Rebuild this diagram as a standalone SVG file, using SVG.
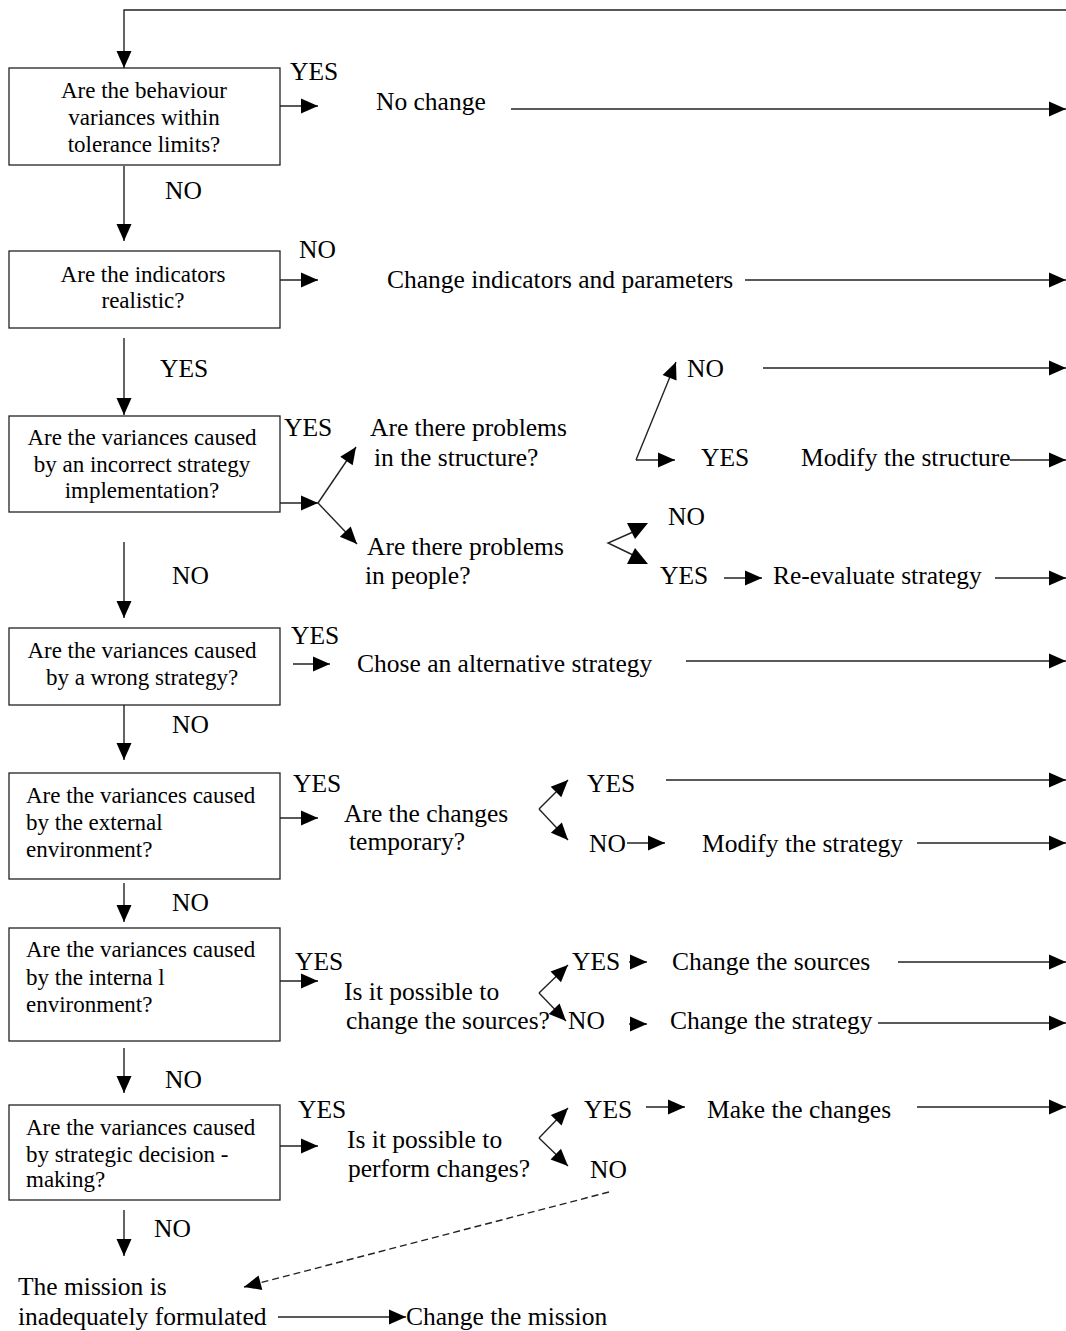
<svg xmlns="http://www.w3.org/2000/svg" width="1066" height="1331" viewBox="0 0 1066 1331">
<style>
  text { font-family: "Liberation Serif", "Times New Roman", serif; fill: #000; }
  .bx { font-size: 23px; }
  .lb { font-size: 25.5px; }
  .c { text-anchor: middle; }
  .box { fill: #fff; stroke: #222; stroke-width: 1.3; }
  .ln { fill: none; stroke: #222; stroke-width: 1.4; }
  .ar { fill: none; stroke: #222; stroke-width: 1.4; marker-end: url(#ah); }
  .da { fill: none; stroke: #222; stroke-width: 1.4; stroke-dasharray: 7 4; marker-end: url(#ah); }
</style>
<defs>
  <marker id="ah" markerUnits="userSpaceOnUse" markerWidth="17" markerHeight="15" refX="17" refY="7.5" orient="auto" overflow="visible">
    <path d="M0,0 L17,7.5 L0,15 z" fill="#000"/>
  </marker>
</defs>
<rect width="1066" height="1331" fill="#fff"/>

<g id="connectors">
  <polyline class="ar" points="1066,10 124,10 124,68"/>
  <line class="ar" x1="280" y1="106" x2="318" y2="106"/>
  <line class="ar" x1="511" y1="109" x2="1066" y2="109"/>
  <line class="ar" x1="124" y1="166" x2="124" y2="241"/>
  <line class="ar" x1="280" y1="280" x2="318" y2="280"/>
  <line class="ar" x1="745" y1="280" x2="1066" y2="280"/>
  <line class="ar" x1="124" y1="338" x2="124" y2="415"/>
  <line class="ar" x1="280" y1="503" x2="318" y2="503"/>
  <line class="ar" x1="318" y1="503" x2="356" y2="447"/>
  <line class="ar" x1="318" y1="503" x2="357" y2="544"/>
  <!-- structure branch -->
  <line class="ar" x1="636" y1="460" x2="676" y2="362"/>
  <line class="ar" x1="636" y1="460" x2="675" y2="460"/>
  <line class="ar" x1="763" y1="368" x2="1066" y2="368"/>
  <line class="ar" x1="1010" y1="460" x2="1066" y2="460"/>
  <!-- people branch -->
  <polyline class="ln" points="633,532 608,543 633,555"/>
  <polygon points="627,523 648,523 635,539" fill="#000"/>
  <polygon points="627,564 648,564 635,548" fill="#000"/>
  <line class="ar" x1="724" y1="578" x2="762" y2="578"/>
  <line class="ar" x1="995" y1="578" x2="1066" y2="578"/>
  <line class="ar" x1="124" y1="542" x2="124" y2="618"/>
  <!-- wrong strategy -->
  <line class="ar" x1="293" y1="664" x2="330" y2="664"/>
  <line class="ar" x1="686" y1="661" x2="1066" y2="661"/>
  <line class="ar" x1="124" y1="705" x2="124" y2="760"/>
  <!-- external -->
  <line class="ar" x1="280" y1="818" x2="318" y2="818"/>
  <line class="ar" x1="539" y1="809" x2="568" y2="780"/>
  <line class="ar" x1="539" y1="809" x2="568" y2="840"/>
  <line class="ar" x1="666" y1="780" x2="1066" y2="780"/>
  <line class="ar" x1="627" y1="843" x2="665" y2="843"/>
  <line class="ar" x1="917" y1="843" x2="1066" y2="843"/>
  <line class="ar" x1="124" y1="883" x2="124" y2="922"/>
  <!-- internal -->
  <line class="ar" x1="280" y1="981" x2="318" y2="981"/>
  <line class="ar" x1="539" y1="993" x2="568" y2="965"/>
  <line class="ar" x1="539" y1="993" x2="566" y2="1021"/>
  <line class="ar" x1="629" y1="962" x2="647" y2="962"/>
  <line class="ar" x1="898" y1="962" x2="1066" y2="962"/>
  <line class="ar" x1="629" y1="1024" x2="647" y2="1024"/>
  <line class="ar" x1="878" y1="1023" x2="1066" y2="1023"/>
  <line class="ar" x1="124" y1="1048" x2="124" y2="1093"/>
  <!-- decision-making -->
  <line class="ar" x1="280" y1="1146" x2="318" y2="1146"/>
  <line class="ar" x1="539" y1="1138" x2="568" y2="1108"/>
  <line class="ar" x1="539" y1="1138" x2="568" y2="1166"/>
  <line class="ar" x1="646" y1="1107" x2="685" y2="1107"/>
  <line class="ar" x1="917" y1="1107" x2="1066" y2="1107"/>
  <line class="da" x1="609" y1="1192" x2="244" y2="1287"/>
  <line class="ar" x1="124" y1="1202" x2="124" y2="1256"/>
  <line class="ar" x1="278" y1="1317" x2="406" y2="1317"/>
</g>

<g id="labels" class="lb">
  <text x="290" y="80">YES</text>
  <text x="165" y="199">NO</text>
  <text x="299" y="258">NO</text>
  <text x="160" y="377">YES</text>
  <text x="284" y="436">YES</text>
  <text x="687" y="377">NO</text>
  <text x="701" y="466">YES</text>
  <text x="668" y="525">NO</text>
  <text x="660" y="584">YES</text>
  <text x="172" y="584">NO</text>
  <text x="291" y="644">YES</text>
  <text x="172" y="733">NO</text>
  <text x="293" y="792">YES</text>
  <text x="587" y="792">YES</text>
  <text x="589" y="852">NO</text>
  <text x="172" y="911">NO</text>
  <text x="295" y="970">YES</text>
  <text x="572" y="970">YES</text>
  <text x="568" y="1029">NO</text>
  <text x="165" y="1088">NO</text>
  <text x="298" y="1118">YES</text>
  <text x="584" y="1118">YES</text>
  <text x="590" y="1178">NO</text>
  <text x="154" y="1237">NO</text>
</g>

<g id="q1"><rect class="box" x="9" y="68" width="271" height="97"/>
  <text class="bx c" x="144" y="98">Are the behaviour</text>
  <text class="bx c" x="144" y="125">variances within</text>
  <text class="bx c" x="144" y="152">tolerance limits?</text></g>
<g id="q2"><rect class="box" x="9" y="251" width="271" height="77"/>
  <text class="bx c" x="143" y="282">Are the indicators</text>
  <text class="bx c" x="143" y="308">realistic?</text></g>
<g id="q3"><rect class="box" x="9" y="416" width="271" height="96"/>
  <text class="bx c" x="142" y="445">Are the variances caused</text>
  <text class="bx c" x="142" y="472">by an incorrect strategy</text>
  <text class="bx c" x="142" y="498">implementation?</text></g>
<g id="q4"><rect class="box" x="9" y="628" width="271" height="77"/>
  <text class="bx c" x="142" y="658">Are the variances caused</text>
  <text class="bx c" x="142" y="685">by a wrong strategy?</text></g>
<g id="q5"><rect class="box" x="9" y="773" width="271" height="106"/>
  <text class="bx" x="26" y="803">Are the variances caused</text>
  <text class="bx" x="26" y="830">by the external</text>
  <text class="bx" x="26" y="857">environment?</text></g>
<g id="q6"><rect class="box" x="9" y="928" width="271" height="113"/>
  <text class="bx" x="26" y="957">Are the variances caused</text>
  <text class="bx" x="26" y="985">by the interna l</text>
  <text class="bx" x="26" y="1012">environment?</text></g>
<g id="q7">
  <text class="bx" x="26" y="1135">Are the variances caused</text>
  <text class="bx" x="26" y="1162">by strategic decision -</text>
  <text class="bx" x="26" y="1187">making?</text>
  <rect x="10" y="1200" width="270" height="10" fill="#fff"/>
  <rect class="box" x="9" y="1105" width="271" height="95" style="fill:none"/></g>

<g id="no-change"><text class="lb" x="376" y="110">No change</text></g>
<g id="change-indicators"><text class="lb" x="387" y="288">Change indicators and parameters</text></g>
<g id="q-structure"><text class="lb" x="370" y="436">Are there problems</text>
  <text class="lb" x="374" y="466">in the structure?</text></g>
<g id="modify-structure"><text class="lb" x="801" y="466">Modify the structure</text></g>
<g id="q-people"><text class="lb" x="367" y="555">Are there problems</text>
  <text class="lb" x="365" y="584">in people?</text></g>
<g id="reevaluate"><text class="lb" x="773" y="584">Re-evaluate strategy</text></g>
<g id="alt-strategy"><text class="lb" x="357" y="672">Chose an alternative strategy</text></g>
<g id="q-temporary"><text class="lb" x="344" y="822">Are the changes</text>
  <text class="lb" x="349" y="850">temporary?</text></g>
<g id="modify-strategy"><text class="lb" x="702" y="852">Modify the strategy</text></g>
<g id="q-sources"><text class="lb" x="344" y="1000">Is it possible to</text>
  <text class="lb" x="346" y="1029">change the sources?</text></g>
<g id="change-sources"><text class="lb" x="672" y="970">Change the sources</text></g>
<g id="change-strategy"><text class="lb" x="670" y="1029">Change the strategy</text></g>
<g id="q-perform"><text class="lb" x="347" y="1148">Is it possible to</text>
  <text class="lb" x="348" y="1177">perform changes?</text></g>
<g id="make-changes"><text class="lb" x="707" y="1118">Make the changes</text></g>
<g id="mission"><text class="lb" x="18" y="1295">The mission is</text>
  <text class="lb" x="18" y="1325">inadequately formulated</text></g>
<g id="change-mission"><text class="lb" x="406" y="1325">Change the mission</text></g>
</svg>
